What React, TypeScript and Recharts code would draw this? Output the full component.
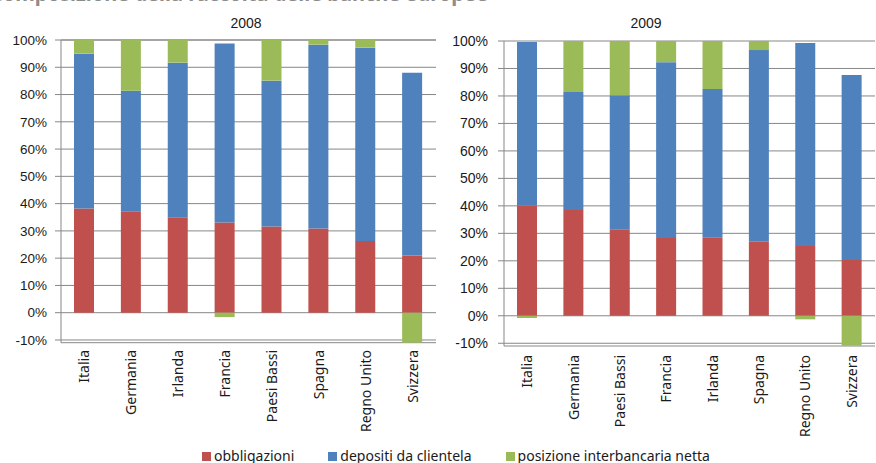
import React from 'react';
import { BarChart, Bar, XAxis, YAxis, CartesianGrid } from 'recharts';

// --- DATA (% of total funding) ---
const SERIES_NAMES = ['obbligazioni', 'depositi da clientela', 'posizione interbancaria netta'];
const SERIES_COLORS = ['#C0504D', '#4F81BD', '#9BBB59'];

const countries2008 = ['Italia', 'Germania', 'Irlanda', 'Francia', 'Paesi Bassi', 'Spagna', 'Regno Unito', 'Svizzera'];
const obbligazioni2008 = [38.2, 37.2, 35.0, 33.1, 31.6, 30.9, 26.3, 21.0];
const depositi2008 = [56.8, 44.2, 56.7, 65.6, 53.5, 67.4, 70.9, 67.0];
const interbancaria2008 = [5.0, 18.6, 8.3, -1.6, 14.9, 1.7, 2.8, -11.0];

const countries2009 = ['Italia', 'Germania', 'Paesi Bassi', 'Francia', 'Irlanda', 'Spagna', 'Regno Unito', 'Svizzera'];
const obbligazioni2009 = [40.0, 38.5, 31.5, 28.3, 28.6, 26.9, 25.4, 20.3];
const depositi2009 = [59.6, 42.9, 48.8, 64.0, 53.9, 69.8, 73.9, 67.3];
const interbancaria2009 = [-0.8, 18.6, 19.7, 7.7, 17.5, 3.3, -1.3, -10.9];

const yTicks = [-10, 0, 10, 20, 30, 40, 50, 60, 70, 80, 90, 100];

const buildRows = (names: string[], obb: number[], dep: number[], pos: number[]) =>
  names.map((name, i) => ({ name, obb: obb[i], dep: dep[i], pos: pos[i] }));

const data2008 = buildRows(countries2008, obbligazioni2008, depositi2008, interbancaria2008);
const data2009 = buildRows(countries2009, obbligazioni2009, depositi2009, interbancaria2009);

const GRID = '#878787';
const TEXT = '#1a1a1a';
const LABEL_FONT = '"Noto Sans", sans-serif';
const NUM_FONT = '"Liberation Sans", Arial, sans-serif';

const CountryTick = ({ x, y, payload, gap }: any) => (
  <text
    transform={`translate(${x + 5},${y + gap}) rotate(-90)`}
    textAnchor="end"
    fontSize={14}
    fontFamily={LABEL_FONT}
    fill={TEXT}
  >
    {payload.value}
  </text>
);

interface PanelProps {
  data: any[];
  width: number;
  axisWidth: number;
  top: number;
  plotHeight: number;
  labelGap: number;
  tickFont: number;
  tickMargin: number;
}

const Panel = ({ data, width, axisWidth, top, plotHeight, labelGap, tickFont, tickMargin }: PanelProps) => (
  <BarChart
    width={width}
    height={463}
    data={data}
    stackOffset="sign"
    barSize={20}
    margin={{ top, right: 1, bottom: 0, left: 0 }}
  >
    <CartesianGrid vertical={false} stroke={GRID} />
    <XAxis
      dataKey="name"
      interval={0}
      axisLine={false}
      tickLine={false}
      tickSize={0}
      tickMargin={0}
      height={463 - top - plotHeight}
      tick={(p: any) => <CountryTick {...p} gap={labelGap} />}
    />
    <YAxis
      type="number"
      domain={[-11, 100]}
      ticks={yTicks}
      interval={0}
      width={axisWidth}
      axisLine={{ stroke: GRID }}
      tickLine={{ stroke: GRID }}
      tickSize={6}
      tickMargin={tickMargin}
      tickFormatter={(v: number) => `${v}%`}
      tick={{ fill: TEXT, fontSize: tickFont, fontFamily: NUM_FONT }}
    />
    <Bar dataKey="obb" stackId="s" fill={SERIES_COLORS[0]} isAnimationActive={false} />
    <Bar dataKey="dep" stackId="s" fill={SERIES_COLORS[1]} isAnimationActive={false} />
    <Bar dataKey="pos" stackId="s" fill={SERIES_COLORS[2]} isAnimationActive={false} />
  </BarChart>
);

const titleStyle: React.CSSProperties = {
  position: 'absolute',
  top: 15,
  width: 60,
  textAlign: 'center',
  fontFamily: NUM_FONT,
  fontSize: 14,
  lineHeight: '16px',
  color: TEXT,
};

export default function App() {
  return (
    <div
      style={{
        position: 'absolute',
        left: 0,
        top: 0,
        width: 876,
        height: 463,
        background: '#fff',
        overflow: 'hidden',
      }}
    >
      {/* heading sits mostly above the top edge */}
      <div
        style={{
          position: 'absolute',
          left: -10,
          top: -20,
          whiteSpace: 'nowrap',
          fontFamily: LABEL_FONT,
          fontWeight: 700,
          fontSize: 20,
          color: '#8c8c8c',
        }}
      >
        Composizione della raccolta delle banche europee
      </div>

      <div style={{ ...titleStyle, left: 216 }}>2008</div>
      <div style={{ ...titleStyle, left: 616 }}>2009</div>

      <div style={{ position: 'absolute', left: 0, top: 0 }}>
        <Panel data={data2008} width={437} axisWidth={61} top={40} plotHeight={302.7} labelGap={7.3} tickFont={13.5} tickMargin={8} />
      </div>
      <div style={{ position: 'absolute', left: 437, top: 0 }}>
        <Panel data={data2009} width={439} axisWidth={67} top={41} plotHeight={305} labelGap={9} tickFont={14} tickMargin={10} />
      </div>

      <div
        style={{
          position: 'absolute',
          left: 202,
          top: 446,
          display: 'flex',
          gap: 34,
          fontFamily: LABEL_FONT,
          fontSize: 14,
          color: TEXT,
          whiteSpace: 'nowrap',
        }}
      >
        {SERIES_NAMES.map((name, i) => (
          <span key={name}>
            <span
              style={{
                display: 'inline-block',
                width: 9,
                height: 9,
                marginRight: 3,
                background: SERIES_COLORS[i],
              }}
            />
            {name}
          </span>
        ))}
      </div>
    </div>
  );
}
